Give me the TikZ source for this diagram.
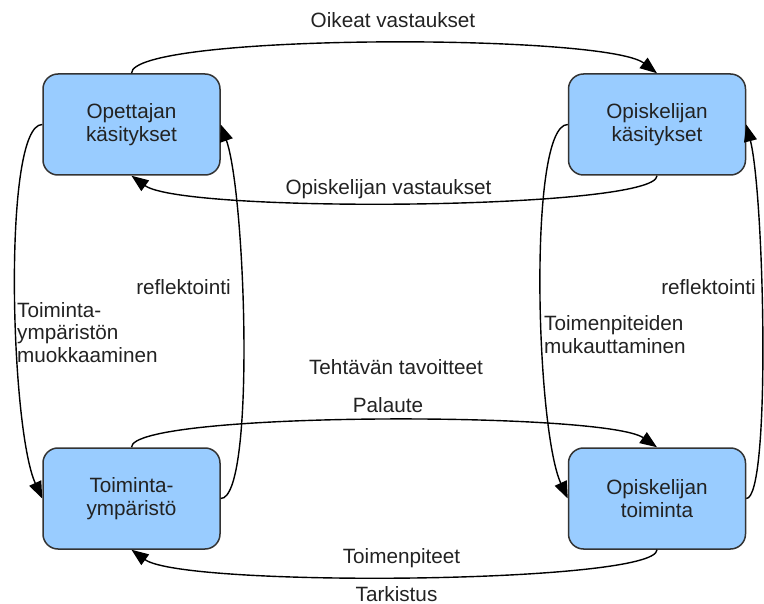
\documentclass[tikz,border=0pt]{standalone}
\usepackage{fontspec}
\setmainfont{Liberation Sans}
\usetikzlibrary{arrows.meta}

\definecolor{boxfill}{HTML}{99CCFF}
\definecolor{boxline}{HTML}{333333}
\definecolor{ink}{HTML}{222222}

\begin{document}
\begin{tikzpicture}[x=1pt, y=-1pt,
  every node/.style={font=\fontsize{20.7}{22.5}\selectfont, text=ink},
  state/.style={draw=boxline, line width=1.5pt, fill=boxfill, rounded corners=15pt,
                minimum width=177pt, minimum height=101pt, align=center, inner sep=0pt},
  flow/.style={draw=black, line width=1.4pt, -{Triangle[length=17pt,width=13pt]}},
  lbl/.style={inner sep=0pt, anchor=base},
  multi/.style={inner sep=0pt, anchor=north west, align=left}]

  \useasboundingbox (0,0) rectangle (764,604);

  % the four states
  \node[state] (tl) at (131.5,124.5) {Opettajan\\käsitykset};
  \node[state] (tr) at (657,124.5)   {Opiskelijan\\käsitykset};
  \node[state] (bl) at (131.5,498.5) {Toiminta-\\ympäristö};
  \node[state] (br) at (657,498.5)   {Opiskelijan\\toiminta};

  % horizontal exchanges
  \draw[flow] (tl.north) .. controls +(0,-40) and +(-52,-40) .. (tr.north);
  \draw[flow] (tr.south) .. controls +(0,34) and +(52,38) .. (tl.south);
  \draw[flow] (bl.north) .. controls +(0,-36) and +(-52,-36) .. (br.north);
  \draw[flow] (br.south) .. controls +(0,34) and +(52,38) .. (bl.south);

  % vertical loops
  \draw[flow] (tl.west) .. controls +(-40,0) and +(-32,-70) .. (bl.west);
  \draw[flow] (bl.east) .. controls +(35,0) and +(25,70) .. (tl.east);
  \draw[flow] (tr.west) .. controls +(-40,0) and +(-32,-70) .. (br.west);
  \draw[flow] (br.east) .. controls +(25,0) and +(18,70) .. (tr.east);

  % labels
  \node[lbl] (l1) at (393,28)    {Oikeat vastaukset};
  \node[lbl] (l2) at (388.5,195) {Opiskelijan vastaukset};
  \node[lbl] (l3) at (183.5,295) {reflektointi};
  \node[lbl] (l4) at (708.5,295) {reflektointi};
  \node[lbl] (l5) at (396,375)   {Tehtävän tavoitteet};
  \node[lbl] (l6) at (388,413)   {Palaute};
  \node[lbl] (l7) at (401.5,563) {Toimenpiteet};
  \node[lbl] (l8) at (396.5,601) {Tarkistus};
  \node[multi] (l9)  at (17,302.2)  {Toiminta-\\ympäristön\\muokkaaminen};
  \node[multi] (l10) at (544,315.4) {Toimenpiteiden\\mukauttaminen};
\end{tikzpicture}
\end{document}
